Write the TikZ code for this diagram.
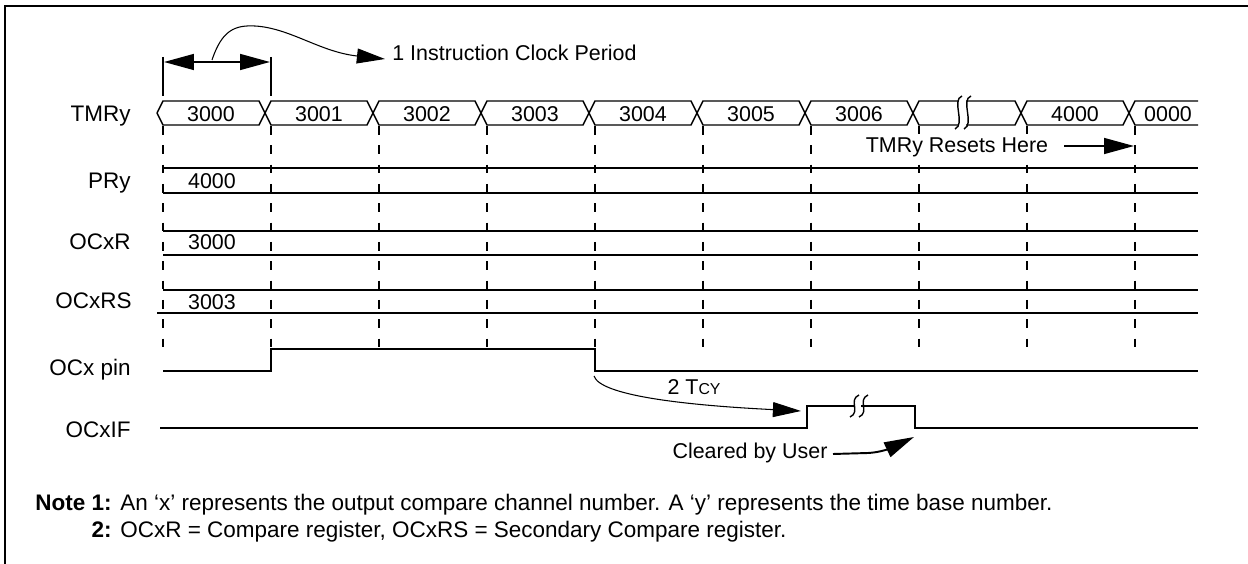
\documentclass[tikz,border=0pt]{standalone}
\usepackage{fontspec}
\setmainfont{Liberation Sans}
\usetikzlibrary{arrows.meta}
\begin{document}
\begin{tikzpicture}[x=0.02cm, y=-0.02cm, font=\fontsize{12.2}{14}\selectfont,
  txt/.style = {inner sep=0pt, text height=8.7pt, text depth=0pt},
  lbl/.style = {txt, anchor=east, font=\fontsize{12.8}{14}\selectfont},
  nt/.style = {txt, font=\fontsize{12.8}{14}\selectfont},
  sig/.style = {line width=1.1pt},
  bus/.style = {line width=0.8pt},
  grid/.style = {line width=1.1pt, dash pattern=on 5pt off 6pt},
  big/.style = {-{Triangle[length=17pt,width=9pt]}, line width=1.1pt},
  lean/.style = {-{Triangle[length=16pt,width=8.5pt]}, line width=0.6pt}]
\useasboundingbox (0,0) rectangle (1248,564);
\draw[line width=1.7pt] (1248,6) -| (5,564);

\node[lbl] (tmr) at (131,114) {TMRy};
\node[lbl] (pr) at (131,181) {PRy};
\node[lbl] (ocr) at (131,242) {OCxR};
\node[lbl] (ocrs) at (132,301) {OCxRS};
\node[lbl] (pin) at (131,368) {OCx pin};
\node[lbl] (flag) at (131,430) {OCxIF};

\draw[grid] (163,126) -- (163,349);
\draw[grid] (271,126) -- (271,349);
\draw[grid] (379,126) -- (379,349);
\draw[grid] (487,126) -- (487,349);
\draw[grid] (595,126) -- (595,349);
\draw[grid] (703,126) -- (703,349);
\draw[grid] (811,126) -- (811,349);
\draw[grid] (919,126) -- (919,349);
\draw[grid] (1027,126) -- (1027,349);
\draw[grid] (1135,126) -- (1135,349);

\draw[bus] (157,113) -- (163,101) -- (259,101) -- (271,125) -- (367,125) -- (379,101) -- (475,101) -- (487,125) -- (583,125) -- (595,101) -- (691,101) -- (703,125) -- (799,125) -- (811,101) -- (907,101) -- (919,125) -- (1015,125) -- (1027,101) -- (1123,101) -- (1135,125) -- (1198,125);
\draw[bus] (157,113) -- (163,125) -- (259,125) -- (271,101) -- (367,101) -- (379,125) -- (475,125) -- (487,101) -- (583,101) -- (595,125) -- (691,125) -- (703,101) -- (799,101) -- (811,125) -- (907,125) -- (919,101) -- (1015,101) -- (1027,125) -- (1123,125) -- (1135,101) -- (1198,101);
\fill[white] (959,99) rectangle (966,127);
\draw[bus] (962,96) .. controls (951,100) and (966,124) .. (955,129);
\draw[bus] (971,96) .. controls (960,100) and (975,124) .. (964,129);

\node[txt] (t0) at (211,114) {3000};
\node[txt] (t1) at (319,114) {3001};
\node[txt] (t2) at (427,114) {3002};
\node[txt] (t3) at (535,114) {3003};
\node[txt] (t4) at (643,114) {3004};
\node[txt] (t5) at (751,114) {3005};
\node[txt] (t6) at (859,114) {3006};
\node[txt] (t7) at (1075,114) {4000};
\node[txt] (t8) at (1168,114) {0000};

\draw[sig] (163,168) -- (1198,168);
\draw[sig] (163,193) -- (1198,193);
\draw[sig] (163,231) -- (1198,231);
\draw[sig] (163,255) -- (1198,255);
\draw[sig] (163,290) -- (1198,290);
\draw[sig] (157,313) -- (1198,313);
\node[txt] (prv) at (212,181) {4000};
\node[txt] (ocrv) at (212,242) {3000};
\node[txt] (ocrsv) at (212,302) {3003};

\draw[sig] (163,371) -- (271,371) -- (271,349) -- (595,349) -- (595,371) -- (1198,371);
\draw[sig] (160,428) -- (807,428) -- (807,406) -- (915,406) -- (915,428) -- (1198,428);
\fill[white] (855,402) rectangle (861,410);
\draw[bus] (859,395) .. controls (848,400) and (861,412) .. (850,417);
\draw[bus] (868,395) .. controls (857,400) and (870,412) .. (859,417);

\draw[sig] (163,57) -- (163,96);
\draw[sig] (271,57) -- (271,96);
\coordinate (pl) at (164,62);
\coordinate (pr2) at (270,62);
\draw[{Triangle[length=17pt,width=9pt]}-{Triangle[length=17pt,width=9pt]}, line width=1.1pt] (pl) -- (pr2);
\node[txt, anchor=west] (clk) at (392,53) {1 Instruction Clock Period};
\coordinate (c0) at (212,60);
\coordinate (c1) at (385,59);
\draw[lean] (c0) .. controls (222,30) and (235,25) .. (255,26) .. controls (290,28) and (320,52) .. (c1);

\node[txt, fill=white, inner sep=2pt] (rst) at (957,145) {TMRy Resets Here};
\coordinate (r1) at (1134,146);
\draw[big] (1064,146) -- (r1);

\node[txt] (tcy) at (694,387) {2 T{\fontsize{9}{10}\selectfont CY}};
\coordinate (f0) at (594,376);
\coordinate (f1) at (801,411);
\draw[lean] (f0) .. controls (600,395) and (680,405) .. (f1);

\node[txt] (clr) at (750,451) {Cleared by User};
\coordinate (u0) at (833,454);
\coordinate (u1) at (914,437);
\draw[big] (u0) -- (868,453) .. controls (885,452) and (895,446) .. (u1);

\node[nt, anchor=west] (note) at (35,503) {\bfseries Note};
\node[nt, anchor=east] (n1) at (112,503) {\bfseries 1:};
\node[nt, anchor=east] (n2) at (112,530) {\bfseries 2:};
\node[nt, anchor=west] (m1) at (120,503) {An ‘x’ represents the output compare channel number. A ‘y’ represents the time base number.};
\node[nt, anchor=west] (m2) at (120,530) {OCxR = Compare register, OCxRS = Secondary Compare register.};
\end{tikzpicture}
\end{document}
